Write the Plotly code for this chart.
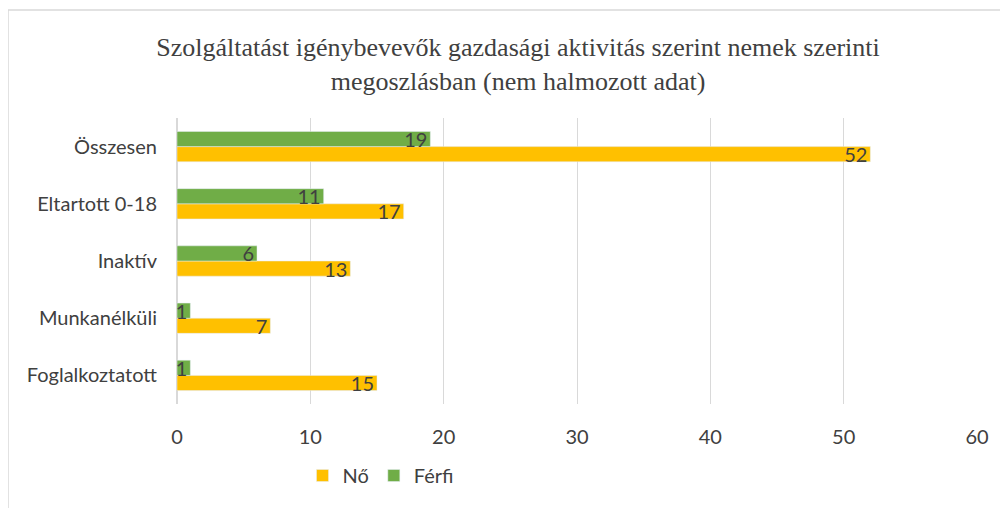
import plotly.graph_objects as go

categories = ["Foglalkoztatott", "Munkanélküli", "Inaktív", "Eltartott 0-18", "Összesen"]
no_values = [15, 7, 13, 17, 52]
ferfi_values = [1, 1, 6, 11, 19]
x_ticks = [0, 10, 20, 30, 40, 50, 60]

FONT = "Lato, Open Sans, sans-serif"
label_font = dict(family=FONT, size=20, color="#404040")

fig = go.Figure()
fig.add_trace(go.Bar(
    y=categories, x=no_values, name="Nő", orientation="h",
    marker=dict(color="#FFC000"),
    text=no_values, textposition="inside", insidetextanchor="end", textangle=0,
    textfont=label_font, cliponaxis=False,
))
fig.add_trace(go.Bar(
    y=categories, x=ferfi_values, name="Férfi", orientation="h",
    marker=dict(color="#70AD47"),
    text=ferfi_values, textposition="inside", insidetextanchor="end", textangle=0,
    textfont=label_font, cliponaxis=False,
))

fig.update_layout(
    width=1008, height=508,
    margin=dict(l=169, r=39, t=110, b=112),
    paper_bgcolor="white", plot_bgcolor="white",
    barmode="group", bargap=0.47, bargroupgap=0,
    uniformtext=dict(minsize=20, mode="show"),
    title=dict(
        text="Szolgáltatást igénybevevők gazdasági aktivitás szerint nemek szerinti<br>megoszlásban (nem halmozott adat)",
        x=0.506, xanchor="center", y=0.906, yanchor="middle",
        font=dict(family="Liberation Serif, Times New Roman, serif", size=26, color="#404040"),
    ),
    xaxis=dict(
        range=[0, 60], tickvals=x_ticks, showgrid=True, gridcolor="#D9D9D9", gridwidth=1,
        zeroline=True, zerolinecolor="#D9D9D9", showline=False, ticks="",
        ticklabelstandoff=19, automargin=False,
        tickfont=dict(family=FONT, size=20, color="#404040"),
    ),
    yaxis=dict(
        showgrid=False, showline=False, ticks="", ticklabelstandoff=19, automargin=False,
        tickfont=dict(family=FONT, size=20, color="#404040"),
    ),
    legend=dict(
        orientation="h", x=0.255, xanchor="center", y=-0.25, yanchor="middle",
        font=dict(family=FONT, size=20, color="#404040"),
        itemwidth=30, traceorder="normal",
    ),
    showlegend=True,
)

fig.add_shape(type="rect", xref="paper", yref="paper",
              x0=-0.21125, x1=1.04, y0=-0.37, y1=1.3776,
              line=dict(color="#D9D9D9", width=1.5), fillcolor="rgba(0,0,0,0)", layer="below")

fig.write_html("out.html")
